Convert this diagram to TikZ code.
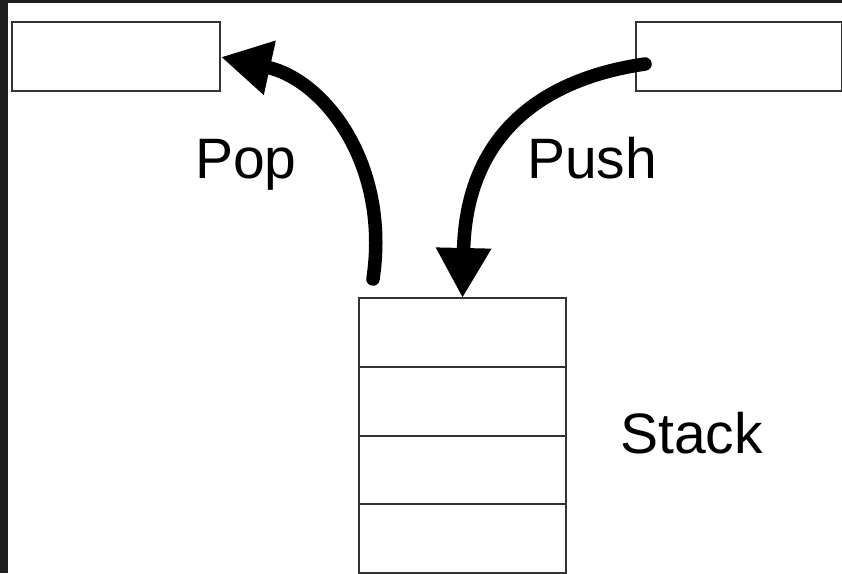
\documentclass[tikz,border=0pt]{standalone}
\usepackage{fontspec}
\setmainfont{Liberation Sans}
\usetikzlibrary{arrows.meta}
\definecolor{frame}{HTML}{1E1E1E}
\definecolor{boxline}{HTML}{333333}
\tikzset{
  cell/.style={draw=boxline, line width=2.5pt, fill=white, minimum width=207pt, minimum height=69pt, inner sep=0pt, outer sep=0pt},
  bigarrow/.style={line width=13.5pt, line cap=round, -{Triangle[length=50pt,width=52pt]}},
  lbl/.style={inner sep=0pt, anchor=base west, font=\fontsize{57}{60}\selectfont}
}
\begin{document}
\begin{tikzpicture}[x=1pt,y=-1pt]
\useasboundingbox (0,0) rectangle (842,573);
\fill[white] (0,0) rectangle (842,573);
\fill[frame] (0,0) rectangle (8,573);
\fill[frame] (0,0) rectangle (842,3);
% boxes
\node[cell, minimum width=208pt, anchor=north west] (out) at (12,22) {};
\node[cell, minimum width=206pt, anchor=north west] (in) at (636,22) {};
\begin{scope}
\clip (0,0) rectangle (842,573);
\node[cell, anchor=north west] (s1) at (359,298) {};
\node[cell, anchor=north west] (s2) at (359,367) {};
\node[cell, anchor=north west] (s3) at (359,436) {};
\node[cell, anchor=north west] (s4) at (359,504) {};
\end{scope}
% arrows
\coordinate (popstart) at (373,279);
\coordinate (pushstart) at (645,64);
\coordinate (popend) at (221,57);
\draw[bigarrow] (popstart) .. controls (390,165) and (325,80) .. (popend);
\draw[bigarrow] (pushstart) .. controls (535,80) and (466,140) .. (s1.north);
% labels
\node[lbl] (pop) at (195,178) {Pop};
\node[lbl] (push) at (527,178) {Push};
\node[lbl] (stack) at (620,453) {Stack};
\end{tikzpicture}
\end{document}
